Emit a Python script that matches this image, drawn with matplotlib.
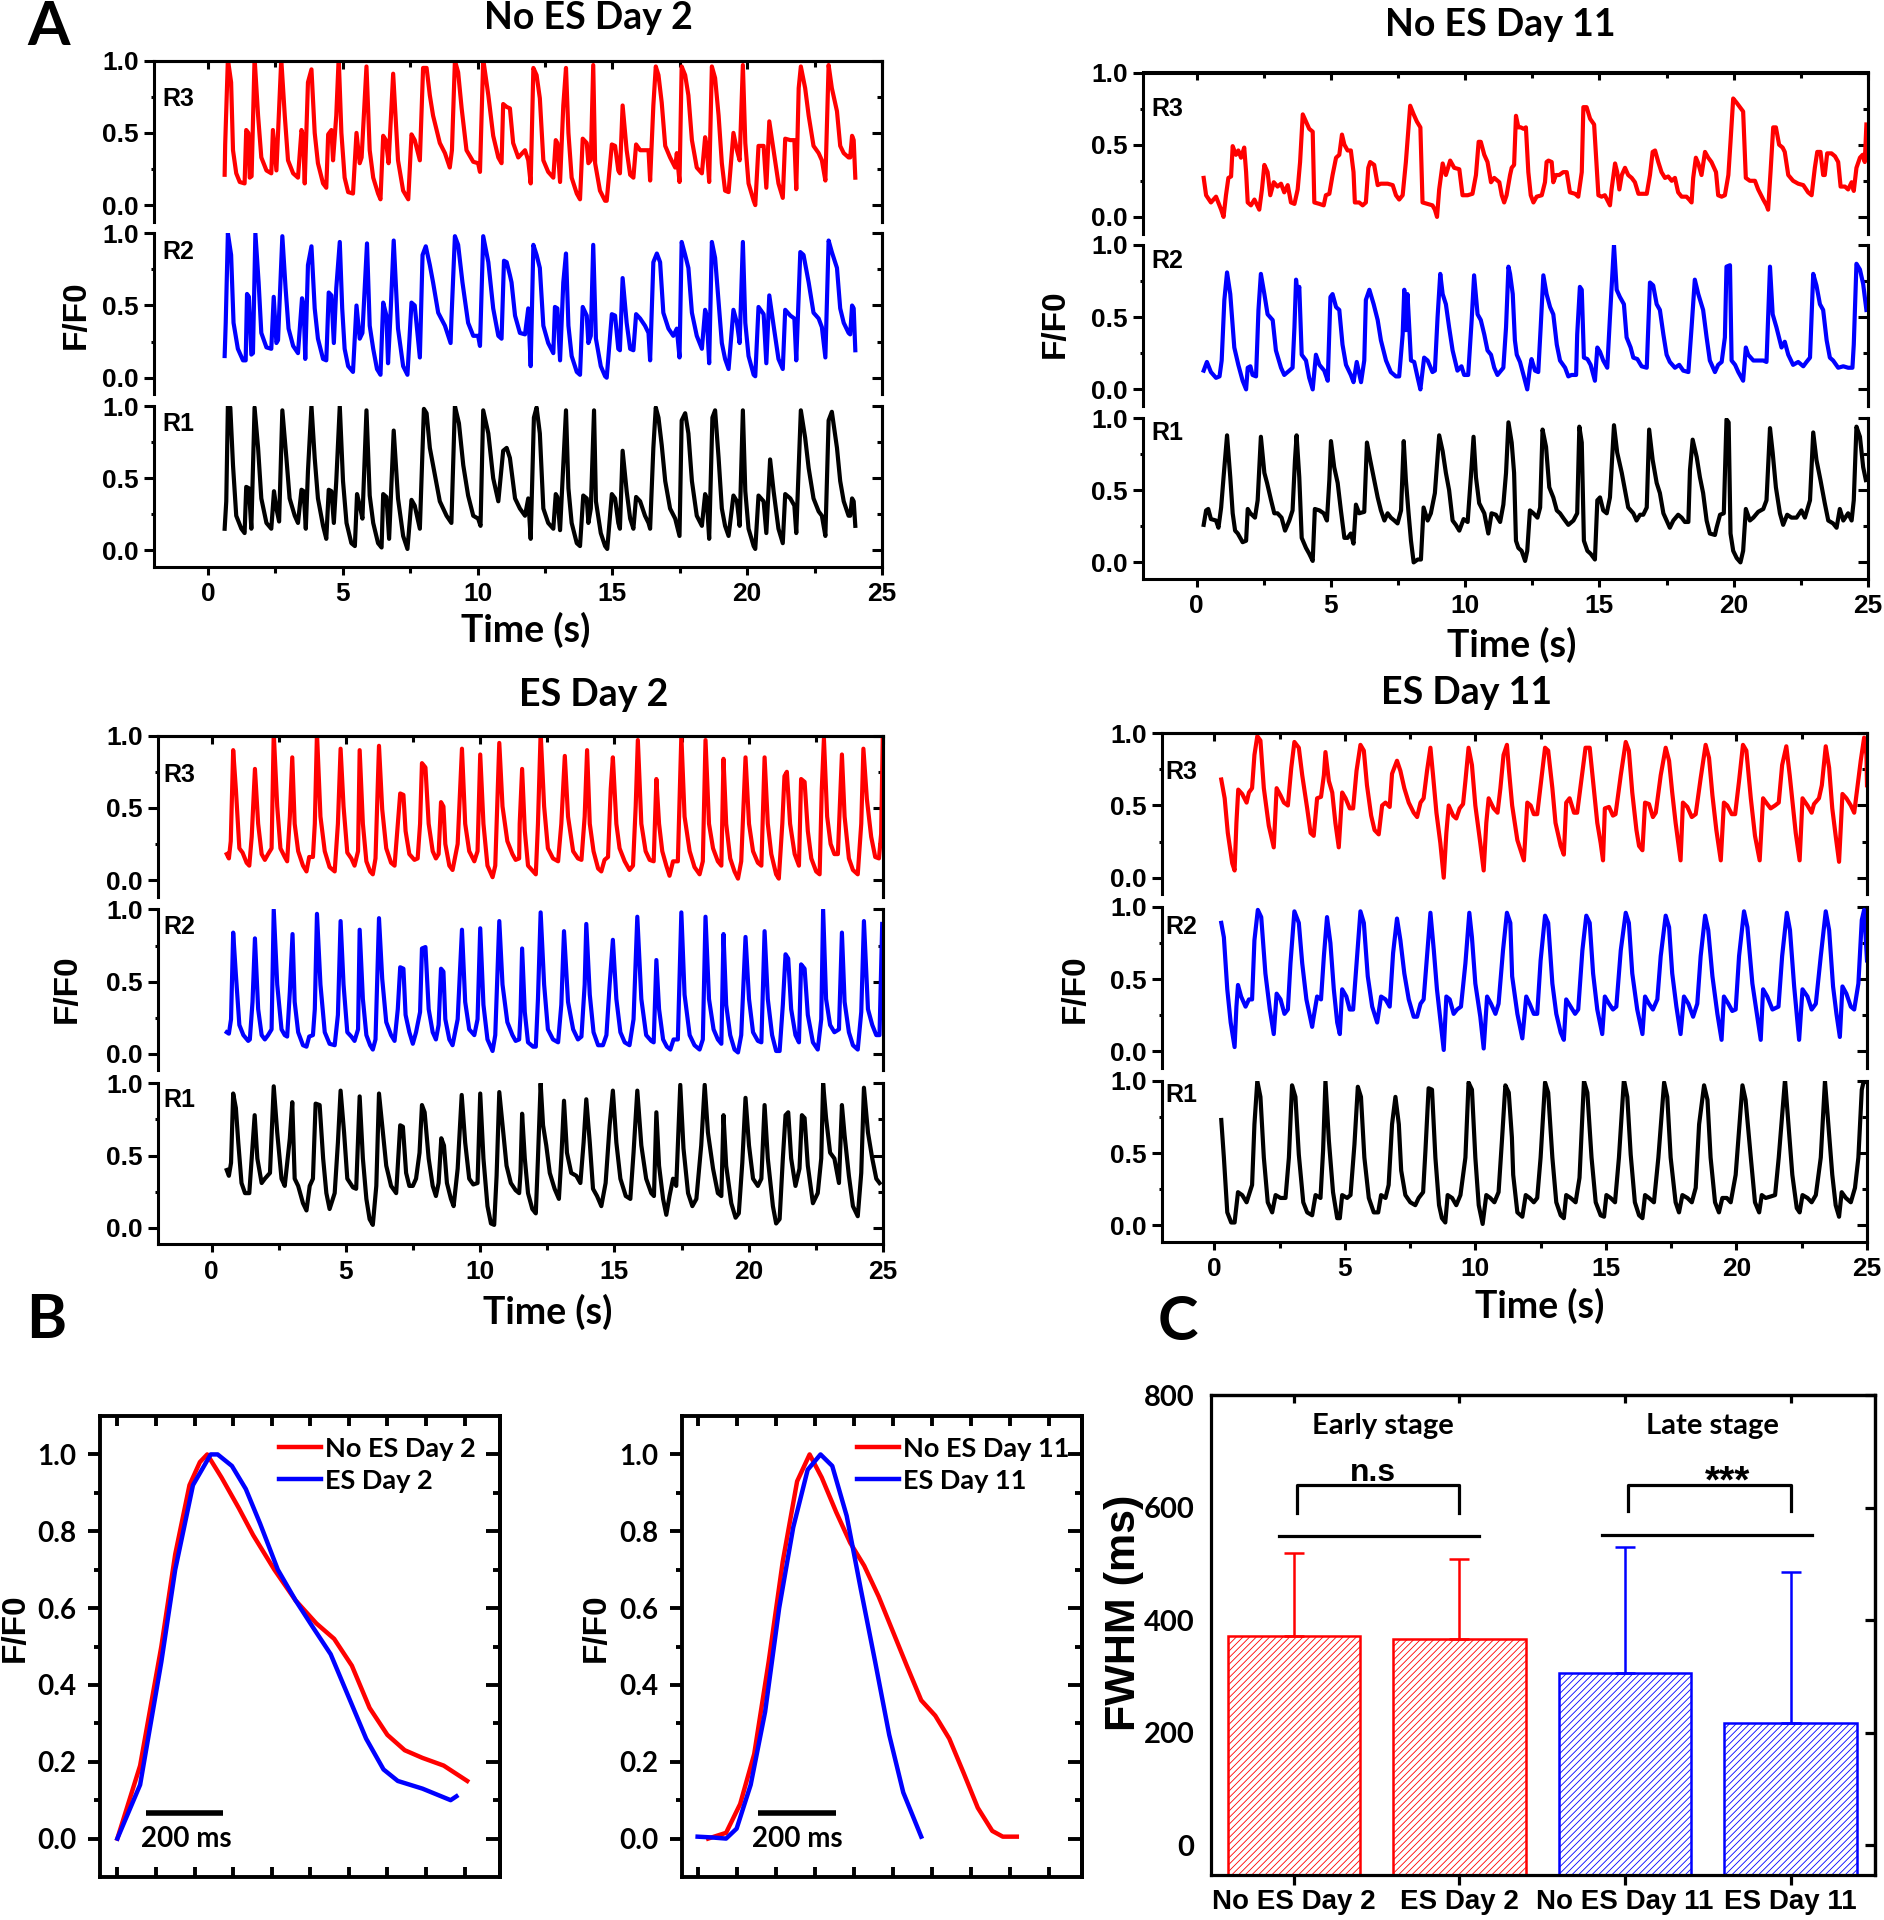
import matplotlib.pyplot as plt
import numpy as np

plt.rcParams['font.family'] = 'Liberation Sans'
plt.rcParams['font.weight'] = 'bold'
plt.rcParams['axes.linewidth'] = 2.2
plt.rcParams['hatch.linewidth'] = 0.6

W, H = 1884, 1920
CAL = 'Lato'

# ---------------- panel A traces: (time s, F/F0) ----------------
no_es_d2_r3 = [(0.62,0.21),(0.64,0.42),(0.74,1.01),(0.86,0.85),(0.93,0.38),(1.05,0.22),(1.18,0.16),(1.36,0.15),(1.42,0.52),(1.50,0.50),(1.55,0.19),(1.62,0.20),(1.73,1.02),(1.86,0.62),(1.98,0.33),(2.17,0.24),(2.35,0.22),(2.41,0.52),(2.54,0.24),(2.72,1.01),(2.85,0.62),(2.97,0.31),(3.16,0.22),(3.34,0.19),(3.47,0.52),(3.53,0.48),(3.59,0.15),(3.71,0.85),(3.84,0.94),(3.96,0.50),(4.08,0.29),(4.27,0.15),(4.39,0.12),(4.46,0.49),(4.58,0.52),(4.64,0.31),(4.76,0.62),(4.85,1.02),(4.95,0.50),(5.07,0.19),(5.20,0.09),(5.38,0.08),(5.51,0.50),(5.63,0.29),(5.70,0.33),(5.88,0.96),(6.00,0.38),(6.13,0.19),(6.31,0.08),(6.40,0.04),(6.50,0.48),(6.60,0.45),(6.70,0.29),(6.87,0.91),(7.05,0.31),(7.24,0.10),(7.43,0.04),(7.55,0.49),(7.67,0.45),(7.86,0.31),(7.98,0.95),(8.11,0.95),(8.23,0.76),(8.35,0.62),(8.60,0.43),(8.79,0.36),(8.97,0.26),(9.05,0.38),(9.16,1.00),(9.28,0.92),(9.41,0.67),(9.59,0.38),(9.84,0.30),(10.02,0.29),(10.09,0.23),(10.21,1.01),(10.40,0.76),(10.58,0.48),(10.77,0.33),(10.89,0.29),(10.95,0.70),(11.08,0.68),(11.20,0.67),
               (11.32,0.43),(11.51,0.33),(11.76,0.38),(11.88,0.31),(11.97,0.15),(12.07,0.95),(12.19,0.90),(12.31,0.74),(12.44,0.31),(12.62,0.23),(12.81,0.19),(12.90,0.45),(12.96,0.43),(13.06,0.16),(13.18,0.69),(13.28,0.95),(13.37,0.50),(13.49,0.19),(13.68,0.08),(13.80,0.04),(13.90,0.46),(14.05,0.43),(14.11,0.29),(14.20,0.31),(14.29,0.97),(14.36,0.29),(14.54,0.10),(14.73,0.03),(14.79,0.03),(14.98,0.42),(15.10,0.41),(15.22,0.24),(15.28,0.22),(15.38,0.69),(15.53,0.38),(15.66,0.21),(15.78,0.19),(15.88,0.42),(16.03,0.38),(16.21,0.38),(16.34,0.38),(16.40,0.17),(16.52,0.69),(16.61,0.96),(16.71,0.90),(16.83,0.71),(16.96,0.41),(17.14,0.33),(17.33,0.26),(17.39,0.36),(17.49,0.16),(17.57,0.96),(17.70,0.90),(17.82,0.76),(17.95,0.45),(18.13,0.26),(18.32,0.22),(18.44,0.47),(18.50,0.41),(18.59,0.16),(18.69,0.96),(18.81,0.88),(18.94,0.62),(19.06,0.29),(19.18,0.10),(19.31,0.09),(19.49,0.50),(19.62,0.38),(19.72,0.31),(19.84,0.97),(19.93,0.43),(20.05,0.15),(20.24,0.03),(20.30,0.00),(20.42,0.41),(20.61,0.41),(20.71,0.12),(20.82,0.58),(20.98,0.38),(21.16,0.15),(21.32,0.05),(21.41,0.46),(21.60,0.45),(21.75,0.45),(21.82,0.11),(21.91,0.81),(21.99,0.96),(22.15,0.81),(22.28,0.62),(22.46,0.41),(22.65,0.36),(22.77,0.31),(22.90,0.17),(23.02,0.97),(23.14,0.81),(23.33,0.65),(23.45,0.41),(23.58,0.36),(23.76,0.33),(23.82,0.33),(23.89,0.48),(23.95,0.45),(24.01,0.19)]

no_es_d2_r2 = [(0.62,0.15),(0.66,0.38),(0.74,1.00),(0.86,0.85),(0.95,0.38),(1.11,0.20),(1.30,0.12),(1.40,0.12),(1.45,0.58),(1.52,0.56),(1.61,0.16),(1.67,0.17),(1.76,1.00),(1.88,0.66),(1.98,0.31),(2.17,0.21),(2.35,0.20),(2.44,0.56),(2.54,0.24),(2.60,0.26),(2.76,0.98),(2.88,0.62),(2.99,0.34),(3.16,0.22),(3.34,0.17),(3.49,0.55),(3.55,0.50),(3.61,0.13),(3.71,0.78),(3.84,0.91),(3.96,0.48),(4.08,0.27),(4.27,0.13),(4.39,0.12),(4.48,0.59),(4.58,0.57),(4.67,0.24),(4.76,0.62),(4.89,0.94),(4.98,0.48),(5.07,0.20),(5.20,0.08),(5.38,0.04),(5.51,0.50),(5.63,0.27),(5.73,0.31),(5.90,0.93),(6.00,0.36),(6.13,0.20),(6.27,0.06),(6.40,0.02),(6.50,0.52),(6.62,0.43),(6.68,0.10),(6.77,0.43),(6.89,0.95),(7.05,0.34),(7.24,0.08),(7.40,0.02),(7.55,0.52),(7.67,0.50),(7.86,0.14),(7.96,0.85),(8.08,0.91),(8.23,0.78),(8.35,0.66),(8.54,0.45),(8.79,0.36),(9.00,0.24),(9.03,0.40),(9.16,0.98),(9.28,0.92),(9.44,0.66),(9.65,0.38),(9.84,0.29),(10.02,0.29),(10.09,0.22),(10.21,0.98),(10.40,0.80),(10.58,0.48),(10.77,0.29),(10.89,0.27),(10.98,0.81),(11.08,0.80),(11.20,0.71),
               (11.26,0.66),(11.39,0.43),(11.57,0.31),(11.76,0.30),(11.88,0.48),(11.97,0.08),(12.07,0.92),(12.19,0.85),(12.31,0.76),(12.44,0.36),(12.62,0.24),(12.81,0.17),(12.87,0.49),(12.96,0.48),(13.06,0.12),(13.18,0.66),(13.28,0.86),(13.37,0.36),(13.49,0.15),(13.68,0.04),(13.80,0.02),(13.90,0.49),(14.05,0.43),(14.11,0.24),(14.20,0.29),(14.29,0.92),(14.39,0.27),(14.57,0.08),(14.73,0.01),(14.79,0.00),(14.98,0.44),(15.10,0.43),(15.22,0.20),(15.28,0.19),(15.38,0.69),(15.53,0.38),(15.66,0.20),(15.78,0.19),(15.88,0.44),(16.03,0.41),(16.21,0.36),(16.34,0.31),(16.40,0.12),(16.52,0.80),(16.65,0.86),(16.77,0.80),(16.89,0.45),(17.08,0.34),(17.26,0.29),(17.39,0.34),(17.49,0.14),(17.57,0.94),(17.70,0.85),(17.82,0.76),(17.95,0.45),(18.13,0.29),(18.32,0.20),(18.44,0.47),(18.50,0.43),(18.59,0.10),(18.69,0.94),(18.81,0.83),(18.94,0.52),(19.06,0.24),(19.18,0.13),(19.31,0.06),(19.49,0.47),(19.62,0.38),(19.72,0.24),(19.84,0.94),(19.93,0.38),(20.05,0.15),(20.24,0.02),(20.30,0.01),(20.42,0.49),(20.61,0.44),(20.71,0.10),(20.82,0.57),(20.98,0.36),(21.16,0.13),(21.32,0.06),(21.41,0.47),(21.60,0.43),(21.75,0.41),(21.82,0.12),(21.97,0.87),(22.09,0.85),(22.28,0.66),(22.46,0.45),(22.65,0.41),(22.77,0.35),(22.90,0.14),(23.02,0.95),(23.14,0.87),(23.33,0.76),(23.45,0.48),(23.58,0.38),(23.76,0.31),(23.82,0.30),(23.89,0.50),(23.95,0.48),(24.01,0.19)]

no_es_d2_r1 = [(0.62,0.15),(0.68,0.34),(0.74,1.00),(0.83,0.99),(0.93,0.59),(1.05,0.24),(1.24,0.15),(1.36,0.12),(1.42,0.44),(1.52,0.43),(1.61,0.15),(1.73,0.99),(1.86,0.71),(1.98,0.36),(2.17,0.19),(2.35,0.15),(2.45,0.41),(2.54,0.29),(2.64,0.20),(2.76,0.97),(2.91,0.64),(3.03,0.36),(3.22,0.24),(3.34,0.19),(3.47,0.42),(3.55,0.41),(3.63,0.15),(3.71,0.55),(3.84,1.00),(3.96,0.64),(4.08,0.36),(4.27,0.17),(4.39,0.08),(4.48,0.42),(4.58,0.41),(4.67,0.19),(4.76,0.48),(4.89,1.00),(5.01,0.48),(5.14,0.19),(5.32,0.05),(5.45,0.03),(5.53,0.39),(5.63,0.31),(5.73,0.22),(5.88,0.97),(6.00,0.38),(6.13,0.19),(6.31,0.05),(6.44,0.02),(6.50,0.39),(6.62,0.37),(6.72,0.08),(6.89,0.83),(7.05,0.36),(7.24,0.10),(7.40,0.01),(7.55,0.35),(7.67,0.31),(7.86,0.15),(8.01,0.98),(8.11,0.95),(8.23,0.71),(8.42,0.52),(8.60,0.34),(8.85,0.24),(9.03,0.19),(9.16,1.00),(9.31,0.88),(9.47,0.59),(9.65,0.38),(9.84,0.24),(10.02,0.22),(10.11,0.17),(10.21,0.97),(10.40,0.81),(10.58,0.50),(10.77,0.34),(10.95,0.69),(11.08,0.71),(11.20,0.64),
               (11.39,0.36),(11.57,0.29),(11.76,0.24),(11.88,0.36),(11.97,0.08),(12.09,0.92),(12.19,0.99),(12.31,0.81),(12.44,0.29),(12.62,0.19),(12.81,0.15),(12.90,0.39),(12.96,0.37),(13.06,0.14),(13.18,0.59),(13.28,0.97),(13.37,0.43),(13.49,0.19),(13.68,0.05),(13.80,0.03),(13.92,0.38),(14.05,0.36),(14.11,0.19),(14.20,0.29),(14.32,0.97),(14.39,0.34),(14.57,0.12),(14.73,0.03),(14.81,0.01),(14.98,0.39),(15.10,0.36),(15.22,0.19),(15.28,0.15),(15.38,0.69),(15.53,0.41),(15.66,0.22),(15.78,0.15),(15.88,0.37),(16.03,0.34),(16.21,0.24),(16.34,0.19),(16.40,0.15),(16.52,0.71),(16.61,0.99),(16.71,0.92),(16.83,0.73),(16.96,0.48),(17.14,0.29),(17.33,0.22),(17.49,0.10),(17.57,0.90),(17.70,0.95),(17.82,0.81),(17.95,0.48),(18.13,0.24),(18.32,0.17),(18.44,0.39),(18.50,0.36),(18.59,0.08),(18.71,0.92),(18.81,0.97),(18.94,0.64),(19.06,0.29),(19.18,0.17),(19.31,0.10),(19.49,0.38),(19.62,0.34),(19.72,0.17),(19.84,0.97),(19.93,0.41),(20.05,0.15),(20.24,0.03),(20.30,0.01),(20.42,0.38),(20.61,0.34),(20.71,0.12),(20.85,0.63),(20.98,0.41),(21.16,0.15),(21.32,0.05),(21.41,0.39),(21.60,0.36),(21.75,0.31),(21.82,0.12),(21.99,0.97),(22.15,0.78),(22.28,0.57),(22.46,0.36),(22.65,0.27),(22.77,0.24),(22.90,0.10),(23.02,0.90),(23.14,0.96),(23.33,0.71),(23.45,0.48),(23.58,0.34),(23.76,0.24),(23.82,0.24),(23.89,0.36),(23.95,0.34),(24.01,0.17)]

no_es_d11_r3 = [(0.26,0.27),(0.35,0.15),(0.53,0.10),(0.72,0.14),(0.91,0.05),(1.00,0.00),(1.09,0.15),(1.18,0.27),(1.28,0.28),(1.34,0.49),(1.46,0.43),(1.55,0.46),(1.65,0.41),(1.77,0.48),(1.84,0.31),(1.90,0.10),(2.02,0.08),(2.15,0.12),(2.33,0.05),(2.43,0.19),(2.52,0.36),(2.64,0.31),(2.74,0.15),(2.87,0.24),(3.01,0.21),(3.14,0.23),(3.26,0.17),(3.39,0.22),(3.51,0.10),(3.64,0.09),(3.76,0.19),(3.85,0.38),(3.95,0.71),(4.07,0.66),(4.19,0.61),(4.32,0.59),(4.38,0.10),(4.57,0.09),(4.73,0.08),(4.81,0.15),(4.94,0.16),(5.06,0.29),(5.19,0.41),(5.31,0.43),(5.41,0.57),(5.50,0.50),(5.62,0.46),(5.74,0.46),(5.84,0.31),(5.89,0.10),(6.05,0.10),(6.18,0.08),(6.30,0.10),(6.39,0.34),(6.46,0.38),(6.61,0.36),(6.74,0.22),(6.86,0.23),(7.11,0.23),(7.30,0.22),(7.42,0.15),(7.54,0.12),(7.67,0.15),(7.79,0.38),(7.89,0.62),(7.95,0.77),(8.08,0.71),(8.20,0.66),(8.33,0.62),(8.41,0.10),(8.60,0.09),(8.78,0.08),(8.87,0.05),(8.95,0.00),(9.03,0.19),(9.16,0.37),(9.28,0.29),(9.44,0.39),(9.59,0.34),(9.78,0.33),(9.90,0.15),(10.09,0.15),(10.27,0.16),(10.40,0.29),(10.50,0.52),(10.58,0.52),(10.71,0.43),(10.83,0.38),(10.96,0.24),(11.08,0.27),(11.27,0.24),
                (11.36,0.15),(11.45,0.10),(11.54,0.15),(11.67,0.29),(11.73,0.34),(11.82,0.36),(11.89,0.70),(11.98,0.62),(12.07,0.62),(12.17,0.61),(12.26,0.62),(12.35,0.31),(12.44,0.15),(12.54,0.10),(12.66,0.14),(12.85,0.15),(12.97,0.24),(13.03,0.38),(13.10,0.39),(13.22,0.38),(13.28,0.24),(13.38,0.29),(13.50,0.29),(13.65,0.31),(13.78,0.31),(13.90,0.17),(14.09,0.16),(14.21,0.14),(14.34,0.31),(14.40,0.76),(14.52,0.76),(14.65,0.68),(14.80,0.64),(14.89,0.36),(14.96,0.15),(15.08,0.14),(15.20,0.15),(15.39,0.08),(15.45,0.19),(15.58,0.37),(15.66,0.31),(15.74,0.19),(15.83,0.29),(15.95,0.34),(16.07,0.29),(16.20,0.27),(16.32,0.24),(16.45,0.16),(16.63,0.16),(16.76,0.16),(16.88,0.29),(16.98,0.45),(17.07,0.46),(17.19,0.38),(17.31,0.31),(17.44,0.27),(17.56,0.28),(17.69,0.25),(17.81,0.27),(17.93,0.17),(18.06,0.14),(18.24,0.14),(18.34,0.12),(18.43,0.10),(18.49,0.27),(18.59,0.41),(18.68,0.37),(18.80,0.29),(18.93,0.45),(19.05,0.41),(19.17,0.38),(19.34,0.31),(19.42,0.15),(19.55,0.14),(19.67,0.15),(19.80,0.29),(19.88,0.52),(19.98,0.82),(20.11,0.79),(20.23,0.76),(20.35,0.73),(20.45,0.27),(20.60,0.25),(20.79,0.25),(20.91,0.19),(21.10,0.12),(21.22,0.08),(21.28,0.05),(21.37,0.31),(21.47,0.62),(21.57,0.62),(21.69,0.50),(21.82,0.48),(21.90,0.45),(22.03,0.29),(22.21,0.25),(22.40,0.23),(22.59,0.22),(22.77,0.17),(22.90,0.15),(23.02,0.34),(23.11,0.45),(23.23,0.45),(23.33,0.29),(23.39,0.29),(23.48,0.44),(23.64,0.44),(23.77,0.42),(23.89,0.38),(23.98,0.21),(24.14,0.21),(24.26,0.19),(24.39,0.24),(24.47,0.18),(24.57,0.34),(24.70,0.41),(24.80,0.43),(24.88,0.38),(24.94,0.64)]

no_es_d11_r2 = [(0.26,0.13),(0.38,0.19),(0.53,0.12),(0.72,0.08),(0.85,0.09),(0.93,0.20),(1.03,0.62),(1.13,0.81),(1.25,0.66),(1.40,0.29),(1.55,0.17),(1.71,0.06),(1.84,0.00),(1.90,0.15),(2.00,0.16),(2.08,0.10),(2.21,0.09),(2.30,0.55),(2.39,0.80),(2.52,0.66),(2.64,0.52),(2.83,0.48),(2.95,0.27),(3.14,0.15),(3.26,0.10),(3.45,0.13),(3.57,0.15),(3.64,0.43),(3.70,0.76),(3.76,0.66),(3.82,0.71),(3.91,0.24),(4.07,0.20),(4.19,0.08),(4.32,0.00),(4.44,0.24),(4.57,0.17),(4.75,0.13),(4.88,0.06),(4.98,0.64),(5.06,0.66),(5.19,0.57),(5.31,0.55),(5.43,0.31),(5.56,0.17),(5.74,0.10),(5.84,0.05),(5.96,0.19),(6.12,0.05),(6.24,0.20),(6.30,0.62),(6.43,0.69),(6.59,0.59),(6.74,0.48),(6.86,0.34),(7.05,0.20),(7.23,0.12),(7.42,0.09),(7.54,0.09),(7.67,0.38),(7.73,0.69),(7.79,0.41),(7.85,0.66),(7.98,0.20),(8.10,0.19),(8.23,0.08),(8.33,0.00),(8.47,0.22),(8.60,0.20),(8.78,0.12),(8.87,0.13),(8.97,0.50),(9.07,0.80),(9.16,0.66),(9.28,0.59),(9.40,0.43),(9.53,0.27),(9.71,0.13),(9.86,0.16),(9.96,0.10),(10.11,0.10),(10.24,0.48),(10.33,0.79),(10.46,0.52),(10.58,0.48),(10.71,0.38),(10.83,0.27),(10.96,0.24),(11.08,0.15),(11.20,0.10),
                (11.42,0.15),(11.52,0.43),(11.61,0.85),(11.67,0.80),(11.77,0.66),(11.85,0.34),(11.92,0.24),(12.04,0.19),(12.17,0.10),(12.31,0.00),(12.41,0.15),(12.47,0.21),(12.60,0.13),(12.72,0.12),(12.81,0.43),(12.91,0.79),(13.03,0.66),(13.16,0.57),(13.28,0.52),(13.41,0.31),(13.53,0.20),(13.72,0.15),(13.84,0.09),(13.96,0.10),(14.13,0.10),(14.17,0.38),(14.27,0.71),(14.34,0.69),(14.42,0.22),(14.55,0.21),(14.67,0.17),(14.83,0.06),(14.92,0.29),(15.02,0.26),(15.14,0.20),(15.29,0.15),(15.39,0.50),(15.54,1.00),(15.64,0.69),(15.76,0.64),(15.91,0.59),(16.01,0.36),(16.16,0.29),(16.26,0.22),(16.41,0.21),(16.57,0.16),(16.76,0.15),(16.88,0.74),(17.00,0.72),(17.13,0.59),(17.25,0.55),(17.38,0.38),(17.50,0.24),(17.62,0.19),(17.81,0.15),(17.97,0.17),(18.12,0.13),(18.31,0.12),(18.43,0.43),(18.55,0.76),(18.68,0.66),(18.86,0.55),(18.99,0.36),(19.11,0.20),(19.30,0.12),(19.42,0.17),(19.55,0.19),(19.67,0.36),(19.73,0.85),(19.86,0.86),(19.92,0.20),(20.05,0.17),(20.17,0.12),(20.35,0.06),(20.45,0.29),(20.54,0.24),(20.73,0.20),(20.91,0.20),(21.10,0.20),(21.22,0.19),(21.35,0.85),(21.45,0.52),(21.59,0.43),(21.78,0.29),(21.90,0.33),(22.03,0.24),(22.21,0.17),(22.40,0.19),(22.59,0.16),(22.71,0.19),(22.84,0.22),(22.96,0.80),(23.08,0.72),(23.21,0.59),(23.33,0.55),(23.46,0.34),(23.58,0.22),(23.70,0.20),(23.89,0.15),(24.08,0.16),(24.26,0.15),(24.42,0.15),(24.47,0.31),(24.57,0.87),(24.70,0.83),(24.82,0.73),(24.94,0.55)]

no_es_d11_r1 = [(0.26,0.26),(0.35,0.36),(0.43,0.37),(0.53,0.30),(0.72,0.29),(0.81,0.24),(0.91,0.38),(1.00,0.59),(1.13,0.88),(1.25,0.59),(1.34,0.34),(1.43,0.22),(1.53,0.20),(1.71,0.14),(1.84,0.15),(1.90,0.37),(2.00,0.34),(2.17,0.31),(2.27,0.43),(2.39,0.87),(2.52,0.62),(2.62,0.55),(2.77,0.43),(2.89,0.34),(3.01,0.34),(3.16,0.31),(3.29,0.22),(3.45,0.29),(3.57,0.36),(3.66,0.71),(3.72,0.88),(3.82,0.59),(3.91,0.17),(4.07,0.10),(4.19,0.06),(4.32,0.01),(4.40,0.37),(4.57,0.36),(4.73,0.34),(4.85,0.29),(4.94,0.57),(5.00,0.84),(5.12,0.66),(5.25,0.55),(5.37,0.36),(5.50,0.17),(5.62,0.17),(5.74,0.20),(5.84,0.13),(5.93,0.40),(6.05,0.34),(6.24,0.35),(6.34,0.83),(6.46,0.71),(6.59,0.59),(6.74,0.45),(6.86,0.36),(6.99,0.29),(7.11,0.34),(7.23,0.31),(7.36,0.29),(7.48,0.27),(7.61,0.36),(7.71,0.84),(7.79,0.57),(7.89,0.34),(7.98,0.15),(8.08,0.00),(8.23,0.02),(8.35,0.02),(8.45,0.38),(8.60,0.29),(8.72,0.34),(8.87,0.48),(9.03,0.88),(9.16,0.77),(9.28,0.62),(9.40,0.50),(9.53,0.29),(9.65,0.26),(9.78,0.22),(9.94,0.30),(10.09,0.28),(10.21,0.59),(10.31,0.87),(10.40,0.59),(10.52,0.41),(10.71,0.34),(10.86,0.20),(10.98,0.34),(11.14,0.33),(11.30,0.28),
                (11.42,0.40),(11.52,0.62),(11.61,0.97),(11.73,0.83),(11.82,0.62),(11.89,0.15),(11.98,0.10),(12.10,0.08),(12.23,0.01),(12.31,0.08),(12.41,0.36),(12.54,0.34),(12.69,0.31),(12.79,0.38),(12.88,0.92),(13.01,0.80),(13.13,0.52),(13.28,0.45),(13.41,0.36),(13.53,0.34),(13.68,0.30),(13.84,0.26),(14.03,0.29),(14.17,0.34),(14.25,0.94),(14.34,0.83),(14.42,0.15),(14.55,0.08),(14.67,0.06),(14.83,0.02),(14.92,0.43),(15.02,0.45),(15.14,0.36),(15.27,0.34),(15.39,0.45),(15.54,0.95),(15.66,0.76),(15.83,0.62),(15.95,0.50),(16.07,0.38),(16.26,0.34),(16.38,0.29),(16.51,0.33),(16.63,0.33),(16.76,0.38),(16.85,0.92),(16.98,0.71),(17.13,0.55),(17.25,0.48),(17.38,0.34),(17.50,0.29),(17.62,0.24),(17.75,0.29),(17.93,0.33),(18.06,0.31),(18.18,0.28),(18.31,0.28),(18.37,0.64),(18.47,0.85),(18.62,0.73),(18.74,0.59),(18.86,0.48),(18.99,0.29),(19.11,0.20),(19.30,0.19),(19.36,0.24),(19.49,0.33),(19.63,0.34),(19.73,0.99),(19.81,0.97),(19.88,0.20),(19.98,0.08),(20.11,0.03),(20.25,0.00),(20.35,0.08),(20.45,0.37),(20.60,0.29),(20.73,0.31),(20.91,0.35),(21.10,0.37),(21.22,0.43),(21.35,0.93),(21.45,0.76),(21.57,0.52),(21.72,0.34),(21.84,0.26),(21.99,0.33),(22.15,0.31),(22.34,0.31),(22.52,0.36),(22.65,0.31),(22.84,0.43),(22.96,0.90),(23.08,0.71),(23.23,0.57),(23.39,0.41),(23.52,0.29),(23.70,0.27),(23.83,0.24),(23.95,0.37),(24.08,0.29),(24.26,0.34),(24.39,0.29),(24.47,0.43),(24.57,0.94),(24.70,0.87),(24.82,0.66),(24.92,0.57)]

es_d2_r3 = [(0.56,0.18),(0.64,0.15),(0.71,0.27),(0.80,0.90),(0.90,0.63),(1.03,0.22),(1.15,0.19),(1.30,0.12),(1.40,0.10),(1.49,0.30),(1.61,0.77),(1.73,0.39),(1.86,0.18),(1.98,0.14),(2.10,0.18),(2.23,0.22),(2.31,1.02),(2.44,0.51),(2.56,0.22),(2.72,0.16),(2.81,0.13),(2.91,0.44),(3.00,0.85),(3.09,0.39),(3.22,0.20),(3.40,0.10),(3.53,0.06),(3.63,0.16),(3.77,0.16),(3.84,0.39),(3.92,1.02),(4.05,0.44),(4.21,0.20),(4.39,0.09),(4.58,0.06),(4.70,0.39),(4.80,0.91),(4.91,0.51),(5.05,0.19),(5.20,0.15),(5.32,0.10),(5.45,0.20),(5.51,0.90),(5.63,0.39),(5.76,0.13),(5.90,0.06),(6.00,0.04),(6.10,0.15),(6.23,0.93),(6.35,0.49),(6.50,0.22),(6.68,0.12),(6.81,0.10),(6.93,0.39),(7.02,0.60),(7.14,0.59),(7.22,0.34),(7.36,0.18),(7.55,0.14),(7.67,0.15),(7.76,0.39),(7.83,0.81),(7.96,0.78),(8.08,0.39),(8.23,0.20),(8.35,0.15),(8.45,0.18),(8.54,0.54),(8.63,0.51),(8.70,0.25),(8.85,0.10),(8.97,0.07),(9.16,0.25),(9.32,0.91),(9.44,0.39),(9.59,0.20),(9.78,0.13),(9.90,0.20),(10.00,0.87),(10.12,0.39),(10.27,0.10),(10.46,0.02),(10.56,0.10),(10.71,0.95),(10.83,0.51),(11.01,0.27),(11.20,0.18),(11.32,0.14),(11.45,0.15),
            (11.47,0.39),(11.56,0.77),(11.66,0.34),(11.78,0.10),(11.97,0.06),(12.07,0.04),(12.15,0.39),(12.25,1.02),(12.38,0.51),(12.52,0.22),(12.71,0.15),(12.90,0.13),(13.02,0.39),(13.15,0.86),(13.27,0.44),(13.46,0.20),(13.64,0.15),(13.77,0.14),(13.89,0.44),(13.98,0.90),(14.08,0.39),(14.22,0.20),(14.39,0.08),(14.51,0.06),(14.63,0.14),(14.76,0.16),(14.86,0.63),(14.94,0.85),(15.07,0.39),(15.19,0.22),(15.38,0.13),(15.56,0.07),(15.69,0.10),(15.79,0.51),(15.87,0.97),(16.00,0.39),(16.16,0.20),(16.31,0.14),(16.46,0.13),(16.56,0.70),(16.66,0.39),(16.78,0.20),(16.93,0.10),(17.05,0.03),(17.18,0.13),(17.36,0.13),(17.49,1.00),(17.61,0.44),(17.80,0.20),(17.98,0.09),(18.17,0.04),(18.29,0.13),(18.39,0.97),(18.52,0.39),(18.67,0.22),(18.85,0.13),(18.98,0.10),(19.06,0.84),(19.16,0.39),(19.31,0.15),(19.47,0.06),(19.60,0.01),(19.72,0.13),(19.88,0.85),(20.01,0.39),(20.16,0.20),(20.34,0.12),(20.47,0.10),(20.59,0.85),(20.71,0.39),(20.84,0.18),(21.02,0.04),(21.12,0.01),(21.25,0.39),(21.33,0.72),(21.42,0.75),(21.54,0.39),(21.71,0.18),(21.87,0.10),(21.95,0.70),(22.08,0.68),(22.20,0.34),(22.33,0.15),(22.51,0.06),(22.64,0.04),(22.72,0.63),(22.80,0.98),(22.92,0.44),(23.05,0.25),(23.19,0.18),(23.32,0.18),(23.47,0.87),(23.57,0.44),(23.73,0.15),(23.88,0.07),(24.06,0.04),(24.19,0.39),(24.27,0.91),(24.40,0.56),(24.56,0.30),(24.71,0.16),(24.85,0.15),(24.93,0.32),(24.99,0.97)]

es_d2_r2 = [(0.56,0.15),(0.64,0.14),(0.72,0.24),(0.80,0.84),(0.90,0.55),(1.03,0.20),(1.18,0.13),(1.36,0.09),(1.42,0.10),(1.52,0.36),(1.61,0.80),(1.73,0.31),(1.86,0.13),(1.98,0.10),(2.10,0.13),(2.23,0.17),(2.31,1.00),(2.44,0.48),(2.60,0.17),(2.72,0.13),(2.81,0.12),(2.91,0.43),(3.01,0.83),(3.09,0.36),(3.22,0.15),(3.40,0.06),(3.53,0.05),(3.63,0.12),(3.77,0.13),(3.84,0.31),(3.92,0.97),(4.05,0.48),(4.21,0.15),(4.39,0.07),(4.58,0.06),(4.70,0.27),(4.80,0.92),(4.91,0.48),(5.05,0.15),(5.20,0.12),(5.32,0.09),(5.45,0.17),(5.51,0.86),(5.63,0.38),(5.76,0.13),(5.90,0.06),(6.00,0.03),(6.10,0.10),(6.23,0.94),(6.35,0.52),(6.50,0.22),(6.68,0.13),(6.81,0.09),(6.93,0.31),(7.02,0.60),(7.14,0.59),(7.22,0.27),(7.36,0.15),(7.49,0.07),(7.61,0.15),(7.76,0.29),(7.83,0.73),(7.96,0.74),(8.08,0.31),(8.23,0.15),(8.35,0.10),(8.45,0.20),(8.54,0.59),(8.63,0.57),(8.70,0.24),(8.85,0.10),(8.97,0.06),(9.16,0.24),(9.32,0.86),(9.44,0.36),(9.59,0.17),(9.78,0.13),(9.90,0.24),(10.00,0.87),(10.12,0.34),(10.27,0.10),(10.46,0.02),(10.56,0.13),(10.71,0.92),(10.83,0.48),(11.01,0.22),(11.20,0.13),(11.32,0.09),(11.45,0.10),
            (11.50,0.27),(11.56,0.73),(11.66,0.29),(11.78,0.08),(11.97,0.05),(12.07,0.05),(12.15,0.38),(12.25,0.98),(12.38,0.48),(12.52,0.17),(12.71,0.10),(12.90,0.08),(13.02,0.34),(13.12,0.85),(13.27,0.36),(13.46,0.17),(13.64,0.10),(13.77,0.12),(13.89,0.48),(13.95,0.90),(14.08,0.41),(14.22,0.15),(14.39,0.06),(14.57,0.06),(14.70,0.13),(14.82,0.48),(14.94,0.79),(15.07,0.38),(15.22,0.15),(15.38,0.08),(15.56,0.06),(15.71,0.24),(15.85,0.95),(16.00,0.38),(16.18,0.13),(16.37,0.09),(16.46,0.08),(16.56,0.65),(16.66,0.31),(16.81,0.10),(16.95,0.05),(17.08,0.03),(17.20,0.10),(17.36,0.10),(17.49,0.98),(17.61,0.41),(17.80,0.13),(17.98,0.06),(18.17,0.03),(18.29,0.10),(18.39,0.95),(18.52,0.38),(18.69,0.17),(18.85,0.10),(18.98,0.07),(19.06,0.83),(19.16,0.34),(19.31,0.13),(19.47,0.03),(19.60,0.01),(19.72,0.13),(19.88,0.81),(20.01,0.38),(20.16,0.15),(20.34,0.09),(20.47,0.08),(20.59,0.85),(20.71,0.38),(20.87,0.13),(21.02,0.02),(21.15,0.02),(21.27,0.34),(21.37,0.69),(21.47,0.66),(21.58,0.31),(21.74,0.13),(21.87,0.08),(21.95,0.62),(22.08,0.59),(22.20,0.27),(22.39,0.08),(22.57,0.03),(22.70,0.24),(22.77,1.00),(22.88,0.38),(23.03,0.20),(23.19,0.15),(23.36,0.17),(23.47,0.84),(23.57,0.36),(23.73,0.15),(23.88,0.06),(24.06,0.03),(24.19,0.29),(24.29,0.92),(24.44,0.31),(24.60,0.20),(24.75,0.13),(24.87,0.13),(24.97,0.90)]

es_d2_r1 = [(0.56,0.40),(0.64,0.36),(0.72,0.45),(0.80,0.93),(0.90,0.83),(0.99,0.59),(1.11,0.31),(1.24,0.24),(1.40,0.24),(1.49,0.48),(1.60,0.78),(1.70,0.48),(1.86,0.31),(1.98,0.34),(2.17,0.38),(2.31,0.98),(2.44,0.66),(2.60,0.34),(2.72,0.29),(2.91,0.62),(3.00,0.87),(3.09,0.34),(3.22,0.29),(3.40,0.17),(3.53,0.12),(3.65,0.29),(3.77,0.34),(3.87,0.86),(4.02,0.85),(4.15,0.48),(4.27,0.24),(4.39,0.13),(4.58,0.24),(4.70,0.59),(4.80,0.95),(4.93,0.66),(5.05,0.34),(5.26,0.28),(5.38,0.27),(5.51,0.91),(5.63,0.48),(5.76,0.20),(5.88,0.06),(6.00,0.02),(6.13,0.29),(6.23,0.93),(6.35,0.71),(6.50,0.43),(6.68,0.29),(6.87,0.24),(7.02,0.71),(7.12,0.70),(7.24,0.38),(7.36,0.29),(7.49,0.29),(7.61,0.34),(7.74,0.52),(7.83,0.85),(7.93,0.80),(8.08,0.48),(8.23,0.29),(8.35,0.22),(8.45,0.31),(8.55,0.62),(8.65,0.57),(8.76,0.31),(8.91,0.20),(9.01,0.15),(9.16,0.41),(9.31,0.92),(9.44,0.59),(9.59,0.34),(9.74,0.30),(9.90,0.31),(10.00,0.93),(10.12,0.48),(10.27,0.15),(10.40,0.03),(10.52,0.02),(10.61,0.36),(10.71,0.94),(10.83,0.71),(10.98,0.43),(11.14,0.31),(11.32,0.26),(11.45,0.24),
            (11.50,0.38),(11.56,0.79),(11.66,0.48),(11.78,0.24),(11.94,0.13),(12.07,0.10),(12.15,0.48),(12.25,1.00),(12.34,0.71),(12.46,0.57),(12.59,0.38),(12.77,0.27),(12.93,0.20),(13.02,0.48),(13.12,0.88),(13.23,0.52),(13.39,0.38),(13.58,0.36),(13.73,0.31),(13.85,0.59),(13.95,0.89),(14.08,0.59),(14.20,0.27),(14.35,0.22),(14.51,0.15),(14.67,0.31),(14.82,0.71),(14.94,0.95),(15.07,0.59),(15.22,0.34),(15.42,0.22),(15.59,0.20),(15.71,0.52),(15.85,0.95),(16.00,0.57),(16.18,0.34),(16.37,0.24),(16.47,0.22),(16.56,0.80),(16.66,0.43),(16.81,0.20),(16.93,0.09),(17.05,0.22),(17.18,0.34),(17.30,0.29),(17.45,0.99),(17.57,0.55),(17.74,0.24),(17.90,0.15),(18.05,0.20),(18.23,0.57),(18.36,0.99),(18.48,0.66),(18.67,0.41),(18.85,0.24),(18.98,0.22),(19.06,0.78),(19.16,0.43),(19.35,0.17),(19.51,0.07),(19.63,0.10),(19.76,0.45),(19.88,0.90),(20.01,0.57),(20.16,0.34),(20.34,0.29),(20.47,0.34),(20.59,0.85),(20.71,0.48),(20.90,0.15),(21.02,0.03),(21.15,0.06),(21.27,0.48),(21.37,0.78),(21.47,0.80),(21.58,0.48),(21.74,0.29),(21.89,0.41),(21.98,0.78),(22.08,0.76),(22.20,0.43),(22.39,0.17),(22.57,0.24),(22.70,0.48),(22.77,1.00),(22.88,0.76),(23.03,0.52),(23.19,0.48),(23.36,0.31),(23.47,0.85),(23.57,0.64),(23.73,0.36),(23.88,0.15),(24.06,0.08),(24.19,0.38),(24.29,0.97),(24.44,0.66),(24.60,0.48),(24.75,0.34),(24.87,0.31)]

es_d11_r3 = [(0.27,0.68),(0.40,0.55),(0.52,0.31),(0.69,0.10),(0.78,0.05),(0.85,0.38),(0.92,0.61),(1.07,0.58),(1.24,0.52),(1.33,0.59),(1.45,0.62),(1.54,0.85),(1.65,0.98),(1.77,0.95),(1.90,0.62),(2.09,0.36),(2.28,0.21),(2.39,0.62),(2.54,0.57),(2.67,0.52),(2.82,0.50),(2.95,0.76),(3.07,0.94),(3.24,0.90),(3.37,0.71),(3.56,0.48),(3.69,0.31),(3.81,0.29),(3.94,0.55),(4.09,0.56),(4.20,0.71),(4.26,0.87),(4.39,0.67),(4.52,0.59),(4.64,0.38),(4.77,0.21),(4.90,0.59),(5.03,0.55),(5.19,0.48),(5.32,0.48),(5.45,0.74),(5.60,0.92),(5.73,0.88),(5.85,0.64),(6.01,0.43),(6.14,0.33),(6.30,0.30),(6.43,0.50),(6.56,0.52),(6.72,0.49),(6.81,0.72),(7.00,0.81),(7.13,0.74),(7.28,0.62),(7.45,0.52),(7.64,0.45),(7.77,0.42),(7.90,0.52),(8.02,0.55),(8.15,0.74),(8.28,0.90),(8.38,0.71),(8.51,0.45),(8.66,0.24),(8.79,0.00),(8.89,0.31),(8.98,0.50),(9.15,0.43),(9.27,0.41),(9.40,0.48),(9.53,0.51),(9.62,0.67),(9.74,0.90),(9.87,0.78),(10.00,0.50),(10.19,0.24),(10.32,0.05),(10.42,0.38),(10.51,0.55),(10.70,0.48),(10.85,0.45),(10.96,0.62),(11.08,0.85),(11.21,0.92),
             (11.29,0.74),(11.41,0.50),(11.61,0.26),(11.86,0.12),(11.99,0.52),(12.12,0.50),(12.24,0.44),(12.37,0.44),(12.50,0.64),(12.67,0.90),(12.79,0.88),(12.95,0.62),(13.07,0.38),(13.27,0.22),(13.39,0.16),(13.48,0.52),(13.61,0.55),(13.78,0.45),(13.90,0.45),(14.07,0.69),(14.22,0.90),(14.38,0.90),(14.51,0.67),(14.67,0.38),(14.80,0.24),(14.89,0.12),(14.96,0.48),(15.12,0.49),(15.27,0.43),(15.37,0.44),(15.57,0.71),(15.76,0.94),(15.88,0.88),(16.01,0.59),(16.17,0.33),(16.27,0.22),(16.40,0.19),(16.50,0.52),(16.65,0.51),(16.80,0.42),(16.91,0.45),(17.10,0.71),(17.29,0.90),(17.42,0.81),(17.54,0.59),(17.67,0.38),(17.86,0.12),(17.95,0.52),(18.12,0.49),(18.29,0.42),(18.44,0.44),(18.63,0.69),(18.82,0.92),(18.95,0.83),(19.08,0.57),(19.23,0.33),(19.40,0.12),(19.52,0.52),(19.65,0.50),(19.82,0.44),(19.95,0.44),(20.10,0.67),(20.25,0.92),(20.38,0.88),(20.55,0.55),(20.71,0.29),(20.89,0.12),(21.02,0.55),(21.18,0.51),(21.31,0.48),(21.48,0.50),(21.62,0.52),(21.75,0.78),(21.91,0.91),(22.04,0.71),(22.17,0.48),(22.27,0.31),(22.42,0.12),(22.53,0.55),(22.72,0.50),(22.88,0.45),(22.97,0.51),(23.16,0.55),(23.27,0.64),(23.42,0.91),(23.55,0.76),(23.67,0.48),(23.80,0.29),(23.93,0.11),(24.06,0.58),(24.21,0.55),(24.38,0.50),(24.51,0.45),(24.63,0.62),(24.76,0.81),(24.89,0.97),(24.98,0.85),(25.00,0.64)]

es_d11_r2 = [(0.27,0.89),(0.37,0.79),(0.50,0.43),(0.63,0.20),(0.78,0.03),(0.85,0.31),(0.91,0.46),(1.03,0.38),(1.20,0.31),(1.33,0.36),(1.45,0.36),(1.54,0.77),(1.67,0.98),(1.80,0.93),(1.96,0.54),(2.13,0.29),(2.28,0.12),(2.39,0.40),(2.54,0.36),(2.69,0.26),(2.82,0.29),(2.92,0.61),(3.07,0.97),(3.24,0.89),(3.37,0.61),(3.53,0.36),(3.75,0.17),(3.81,0.24),(3.94,0.38),(4.09,0.36),(4.20,0.66),(4.32,0.93),(4.45,0.75),(4.58,0.43),(4.71,0.20),(4.81,0.12),(4.90,0.43),(5.06,0.38),(5.19,0.29),(5.32,0.29),(5.45,0.61),(5.60,0.97),(5.73,0.89),(5.88,0.52),(6.05,0.31),(6.24,0.20),(6.39,0.38),(6.56,0.36),(6.72,0.31),(6.85,0.68),(7.00,0.92),(7.13,0.77),(7.28,0.54),(7.45,0.36),(7.64,0.24),(7.77,0.24),(7.90,0.33),(8.02,0.36),(8.15,0.66),(8.28,0.96),(8.41,0.70),(8.53,0.43),(8.66,0.22),(8.79,0.01),(8.89,0.38),(9.02,0.36),(9.17,0.26),(9.30,0.29),(9.45,0.31),(9.62,0.61),(9.77,0.96),(9.87,0.79),(10.00,0.47),(10.19,0.24),(10.32,0.02),(10.45,0.38),(10.60,0.33),(10.77,0.26),(10.89,0.33),(11.06,0.70),(11.21,0.96),(11.34,0.89),
             (11.41,0.52),(11.61,0.26),(11.80,0.09),(11.95,0.38),(12.08,0.33),(12.24,0.26),(12.37,0.26),(12.50,0.63),(12.67,0.94),(12.79,0.89),(12.95,0.47),(13.10,0.26),(13.27,0.13),(13.39,0.08),(13.48,0.36),(13.65,0.31),(13.82,0.26),(13.94,0.29),(14.10,0.70),(14.25,0.94),(14.38,0.89),(14.51,0.54),(14.67,0.29),(14.86,0.12),(14.96,0.38),(15.12,0.33),(15.27,0.29),(15.40,0.31),(15.57,0.70),(15.76,0.96),(15.88,0.89),(16.01,0.54),(16.20,0.29),(16.40,0.12),(16.50,0.38),(16.65,0.33),(16.80,0.29),(16.97,0.36),(17.10,0.66),(17.29,0.94),(17.42,0.86),(17.54,0.54),(17.70,0.31),(17.86,0.12),(17.99,0.38),(18.16,0.33),(18.34,0.24),(18.50,0.33),(18.63,0.66),(18.80,0.94),(18.92,0.84),(19.08,0.52),(19.27,0.26),(19.43,0.08),(19.52,0.38),(19.69,0.33),(19.84,0.28),(19.97,0.29),(20.10,0.66),(20.29,0.97),(20.42,0.86),(20.61,0.47),(20.80,0.24),(20.93,0.08),(21.02,0.43),(21.18,0.38),(21.38,0.29),(21.61,0.31),(21.75,0.66),(21.93,0.96),(22.05,0.84),(22.21,0.45),(22.40,0.08),(22.53,0.43),(22.72,0.38),(22.88,0.29),(23.04,0.33),(23.23,0.66),(23.42,0.97),(23.55,0.84),(23.70,0.45),(23.83,0.26),(23.96,0.10),(24.06,0.45),(24.21,0.40),(24.38,0.31),(24.51,0.29),(24.67,0.47),(24.80,0.91),(24.89,0.98),(25.00,0.63)]

es_d11_r1 = [(0.27,0.73),(0.37,0.47),(0.50,0.09),(0.65,0.02),(0.78,0.02),(0.91,0.23),(1.07,0.21),(1.24,0.16),(1.36,0.23),(1.45,0.28),(1.54,0.70),(1.65,1.00),(1.77,0.89),(1.90,0.47),(2.05,0.16),(2.22,0.09),(2.35,0.21),(2.54,0.19),(2.73,0.19),(2.86,0.47),(2.98,0.97),(3.11,0.89),(3.24,0.49),(3.41,0.16),(3.56,0.09),(3.75,0.07),(3.88,0.21),(4.07,0.19),(4.17,0.52),(4.26,1.00),(4.39,0.59),(4.55,0.23),(4.71,0.05),(4.81,0.05),(4.90,0.21),(5.09,0.19),(5.22,0.21),(5.37,0.56),(5.50,0.96),(5.62,0.89),(5.75,0.47),(5.92,0.19),(6.11,0.09),(6.28,0.09),(6.39,0.21),(6.56,0.19),(6.68,0.28),(6.81,0.70),(6.94,0.89),(7.07,0.70),(7.16,0.38),(7.32,0.21),(7.51,0.16),(7.70,0.14),(7.83,0.19),(8.00,0.23),(8.09,0.52),(8.21,0.95),(8.34,0.94),(8.47,0.47),(8.61,0.14),(8.72,0.05),(8.85,0.02),(8.94,0.21),(9.11,0.19),(9.27,0.14),(9.43,0.21),(9.62,0.47),(9.74,0.99),(9.87,0.94),(10.00,0.47),(10.13,0.14),(10.28,0.01),(10.42,0.21),(10.57,0.19),(10.73,0.16),(10.89,0.23),(11.02,0.59),(11.15,0.97),(11.28,0.92),(11.40,0.61),
             (11.45,0.35),(11.61,0.09),(11.80,0.06),(11.93,0.21),(12.08,0.19),(12.24,0.16),(12.37,0.19),(12.50,0.47),(12.67,0.99),(12.79,0.92),(12.95,0.47),(13.10,0.16),(13.27,0.07),(13.39,0.05),(13.48,0.21),(13.65,0.19),(13.84,0.16),(13.99,0.33),(14.16,1.00),(14.29,0.92),(14.45,0.47),(14.61,0.16),(14.80,0.07),(14.93,0.06),(15.02,0.21),(15.18,0.19),(15.35,0.16),(15.50,0.47),(15.69,1.01),(15.82,0.89),(15.95,0.49),(16.11,0.16),(16.27,0.07),(16.40,0.05),(16.50,0.21),(16.65,0.19),(16.84,0.16),(17.01,0.47),(17.23,0.99),(17.35,0.89),(17.48,0.47),(17.67,0.16),(17.80,0.09),(17.93,0.21),(18.12,0.19),(18.29,0.16),(18.44,0.26),(18.57,0.70),(18.76,0.97),(18.89,0.87),(19.01,0.47),(19.18,0.16),(19.33,0.09),(19.46,0.19),(19.63,0.19),(19.78,0.16),(19.97,0.35),(20.23,0.97),(20.35,0.87),(20.55,0.47),(20.71,0.16),(20.87,0.09),(20.97,0.21),(21.12,0.19),(21.31,0.20),(21.48,0.21),(21.62,0.47),(21.86,1.01),(21.99,0.70),(22.14,0.35),(22.31,0.12),(22.42,0.09),(22.53,0.21),(22.72,0.19),(22.88,0.16),(23.04,0.21),(23.23,0.47),(23.39,1.00),(23.52,0.70),(23.67,0.35),(23.80,0.14),(23.93,0.06),(24.03,0.23),(24.19,0.19),(24.38,0.16),(24.54,0.26),(24.67,0.47),(24.80,0.94),(24.89,1.01),(25.00,0.99)]

# ---------------- panel B: single transients, (time ms, F/F0) ----------------
b_no_es_d2 = [(0,0.00),(59,0.19),(114,0.50),(150,0.74),(187,0.92),(214,0.98),(233,1.00),(270,0.94),(315,0.86),(352,0.79),(407,0.70),(462,0.62),(516,0.56),(562,0.52),(608,0.45),(654,0.34),(700,0.27),(745,0.23),(791,0.21),(846,0.19),(907,0.15)]
b_es_d2 = [(0,0.00),(59,0.14),(114,0.46),(150,0.70),(196,0.92),(242,1.00),(260,1.00),(297,0.97),(333,0.91),(370,0.82),(416,0.70),(462,0.62),(507,0.55),(553,0.48),(599,0.37),(645,0.26),(690,0.18),(727,0.15),(791,0.13),(864,0.10),(879,0.11)]
b_no_es_d11 = [(27,0.00),(73,0.015),(109,0.09),(145,0.22),(182,0.46),(218,0.72),(255,0.93),(287,1.00),(318,0.94),(355,0.85),(391,0.77),(427,0.71),(464,0.63),(500,0.54),(536,0.45),(573,0.36),(609,0.32),(645,0.26),(682,0.17),(718,0.08),(755,0.02),(782,0.005),(818,0.005)]
b_es_d11 = [(0,0.005),(36,0.003),(73,0.00),(100,0.026),(136,0.14),(173,0.33),(209,0.60),(245,0.81),(282,0.96),(315,1.00),(345,0.97),(382,0.84),(418,0.65),(455,0.46),(491,0.27),(527,0.12),(573,0.005)]

# ---------------- panel C ----------------
groups = ['No ES Day 2', 'ES Day 2', 'No ES Day 11', 'ES Day 11']
fwhm_mean = [371, 367, 306, 218]
fwhm_sd = [148, 142, 224, 268]
bar_colors = ['red', 'red', 'blue', 'blue']


fig = plt.figure(figsize=(W / 100, H / 100), dpi=100)


def rect(x0, y0, x1, y1):
    return [x0 / W, 1 - y1 / H, (x1 - x0) / W, (y1 - y0) / H]


def ftext(x, y, s, **kw):
    fig.text(x / W, 1 - y / H, s, ha='center', va='center', **kw)


def trace_panel(x0, x1, tops, rows, tag_dx, tag_dy):
    h = 161
    for i, (data, color, tag) in enumerate(rows):
        ax = fig.add_axes(rect(x0, tops[i], x1, tops[i] + h))
        t, v = np.array(data).T
        ax.plot(t, v, color=color, lw=3.0, solid_joinstyle='round')
        ax.set_xlim(-2, 25)
        ax.set_ylim(-0.115, 1.0)
        ax.patch.set_alpha(0)
        ax.spines['top'].set_visible(i == 0)
        ax.spines['bottom'].set_visible(i == 2)
        ax.set_yticks([0, 0.5, 1.0], ['0.0', '0.5', '1.0'], fontsize=19)
        ax.set_yticks([0.25, 0.75], minor=True)
        ax.tick_params(axis='y', which='both', direction='out', right=False, width=2.2, pad=4)
        ax.tick_params(axis='y', which='major', length=7)
        ax.tick_params(axis='y', which='minor', length=2.5)
        sec = ax.secondary_yaxis('right')
        sec.set_yticks([0, 0.5, 1.0])
        sec.set_yticks([0.25, 0.75], minor=True)
        sec.tick_params(which='both', direction='in', labelright=False, width=2.2)
        sec.tick_params(which='major', length=7)
        sec.tick_params(which='minor', length=3.5)
        if i == 2:
            ax.set_xticks(range(0, 26, 5), [str(k) for k in range(0, 26, 5)], fontsize=19)
            ax.set_xticks(np.arange(2.5, 25, 5), minor=True)
            ax.tick_params(axis='x', which='both', direction='out', width=2.2, pad=5)
            ax.tick_params(axis='x', which='major', length=6)
            ax.tick_params(axis='x', which='minor', length=4)
        else:
            ax.set_xticks([])
        if i == 0:
            top = ax.secondary_xaxis('top')
            top.set_xticks(range(0, 26, 5))
            top.set_xticks(np.arange(2.5, 25, 5), minor=True)
            top.tick_params(which='both', direction='in', labeltop=False, width=2.2)
            top.tick_params(which='major', length=6)
            top.tick_params(which='minor', length=4)
        ax.text(tag_dx / (x1 - x0), 1 - tag_dy[i] / h, tag, transform=ax.transAxes,
                ha='left', va='center', fontsize=18)


trace_panel(154, 882, [60.7, 233.3, 406],
            [(no_es_d2_r3, 'red', 'R3'), (no_es_d2_r2, 'blue', 'R2'), (no_es_d2_r1, 'black', 'R1')],
            8, [38, 19, 18])
trace_panel(1143, 1868, [72.5, 245, 418],
            [(no_es_d11_r3, 'red', 'R3'), (no_es_d11_r2, 'blue', 'R2'), (no_es_d11_r1, 'black', 'R1')],
            8, [36, 16, 15])
trace_panel(158, 883, [735.7, 909.5, 1083.4],
            [(es_d2_r3, 'red', 'R3'), (es_d2_r2, 'blue', 'R2'), (es_d2_r1, 'black', 'R1')],
            5, [39, 18, 17])
trace_panel(1162, 1867, [733.3, 907, 1081],
            [(es_d11_r3, 'red', 'R3'), (es_d11_r2, 'blue', 'R2'), (es_d11_r1, 'black', 'R1')],
            3, [39, 20, 14])

# panel A titles and axis labels
for x, y, s in [(588, 18, 'No ES Day 2'), (1500, 25, 'No ES Day 11'),
                (594, 695, 'ES Day 2'), (1467, 693, 'ES Day 11')]:
    ftext(x, y, s, family=CAL, fontweight='bold', fontsize=27)
for x, y in [(526, 630), (1512, 645), (548, 1312), (1540, 1306)]:
    ftext(x, y, 'Time (s)', family=CAL, fontweight='bold', fontsize=27)
for x, y in [(76, 315), (1055, 324), (67, 989), (1075, 989), (15, 1628), (596, 1628)]:
    ftext(x, y, 'F/F0', fontsize=24, rotation=90)

# ---------------- panel B ----------------
b_panels = [
    ((100, 1416, 500, 1877), (-45, 992), [(b_no_es_d2, 'red', 'No ES Day 2'), (b_es_d2, 'blue', 'ES Day 2')], (73, 273), 178, 0.448),
    ((682, 1416, 1082, 1877), (-40, 985), [(b_no_es_d11, 'red', 'No ES Day 11'), (b_es_d11, 'blue', 'ES Day 11')], (155, 355), 256, 0.4375),
]
for box, xl, curves, bar, bar_txt, leg_x in b_panels:
    ax = fig.add_axes(rect(*box))
    for data, color, name in curves:
        t, v = np.array(data).T
        ax.plot(t, v, color=color, lw=3.2, label=name, solid_joinstyle='round')
    ax.set_xlim(*xl)
    ax.set_ylim(-0.1, 1.1)
    for s in ax.spines.values():
        s.set_linewidth(2.8)
    ax.set_xticks(np.arange(0, 901, 100))
    ax.tick_params(axis='x', direction='in', top=True, labelbottom=False, length=7, width=2.8)
    yt = np.round(np.arange(0, 1.01, 0.2), 1)
    ax.set_yticks(yt, ['%.1f' % k for k in yt], family=CAL, fontweight='bold', fontsize=20)
    ax.set_yticks([0.1, 0.3, 0.5, 0.7, 0.9], minor=True)
    ax.tick_params(axis='y', which='both', direction='out', right=False, width=2.8, pad=8)
    ax.tick_params(axis='y', which='major', length=9)
    ax.tick_params(axis='y', which='minor', length=4)
    sec = ax.secondary_yaxis('right')
    sec.set_yticks(yt)
    sec.set_yticks([0.1, 0.3, 0.5, 0.7, 0.9], minor=True)
    sec.tick_params(which='both', direction='in', labelright=False, width=2.8)
    sec.tick_params(which='major', length=10)
    sec.tick_params(which='minor', length=5)
    sec.spines['right'].set_linewidth(2.8)
    ax.plot(bar, [0.067, 0.067], color='black', lw=4, solid_capstyle='butt')
    ax.text(bar_txt, 0.0, '200 ms', ha='center', va='center', family=CAL, fontweight='bold', fontsize=20)
    ax.legend(loc='upper left', bbox_to_anchor=(leg_x, 0.955), frameon=False,
              prop={'family': CAL, 'weight': 'bold', 'size': 19.5},
              handlelength=1.55, handletextpad=0.15, labelspacing=0.3,
              borderpad=0, borderaxespad=0)

# ---------------- panel C ----------------
axc = fig.add_axes(rect(1211, 1395, 1875, 1875))
ybot = -53
x = np.arange(len(groups))
axc.bar(x, np.array(fwhm_mean) - ybot, bottom=ybot, width=0.8, color='white',
        edgecolor=bar_colors, hatch='/////', linewidth=1.8, zorder=2)
for xi, m, s, c in zip(x, fwhm_mean, fwhm_sd, bar_colors):
    axc.errorbar(xi, m, yerr=[[0], [s]], fmt='none', ecolor=c, elinewidth=1.8,
                 capsize=7, capthick=1.8, zorder=3)
axc.set_xlim(-0.5, 3.51)
axc.set_ylim(ybot, 800)
for s in axc.spines.values():
    s.set_linewidth(2.3)
    s.set_zorder(5)
axc.set_yticks(range(0, 801, 200), [str(k) for k in range(0, 801, 200)],
               family=CAL, fontweight='bold', fontsize=21)
axc.tick_params(axis='y', length=0, pad=12)
axc.set_xticks(x, groups, fontsize=20)
axc.tick_params(axis='x', direction='out', length=7, width=2.3, pad=3)
sec = axc.secondary_yaxis('right')
sec.set_yticks(range(0, 801, 200))
sec.tick_params(direction='in', labelright=False, length=7, width=2.3)
sec.spines['right'].set_linewidth(2.3)
topc = axc.secondary_xaxis('top')
topc.set_xticks(x)
topc.tick_params(direction='in', labeltop=False, length=6, width=2.3)
topc.spines['top'].set_linewidth(2.3)

axc.plot([-0.09, 1.12], [550, 550], color='black', lw=2.3)
axc.plot([0.02, 0.02, 1.0, 1.0], [590, 640, 640, 590], color='black', lw=2.3)
axc.plot([1.86, 3.13], [552, 552], color='black', lw=2.3)
axc.plot([2.02, 2.02, 3.0, 3.0], [594, 640, 640, 594], color='black', lw=2.3)
axc.text(0.475, 647, 'n.s', ha='center', va='baseline', fontsize=23)
axc.text(2.62, 626, '***', ha='center', va='baseline', fontsize=28)
axc.text(0.54, 731, 'Early stage', ha='center', va='baseline', family=CAL, fontweight='bold', fontsize=21)
axc.text(2.53, 731, 'Late stage', ha='center', va='baseline', family=CAL, fontweight='bold', fontsize=21)
ftext(1124, 1613, 'FWHM (ms)', fontsize=31, rotation=90)

# panel letters
ftext(49, 27, 'A', family=CAL, fontweight='bold', fontsize=44)
ftext(46, 1320, 'B', family=CAL, fontweight='bold', fontsize=44)
ftext(1178, 1322, 'C', family=CAL, fontweight='bold', fontsize=44)

fig.savefig('out.png', dpi=100)
